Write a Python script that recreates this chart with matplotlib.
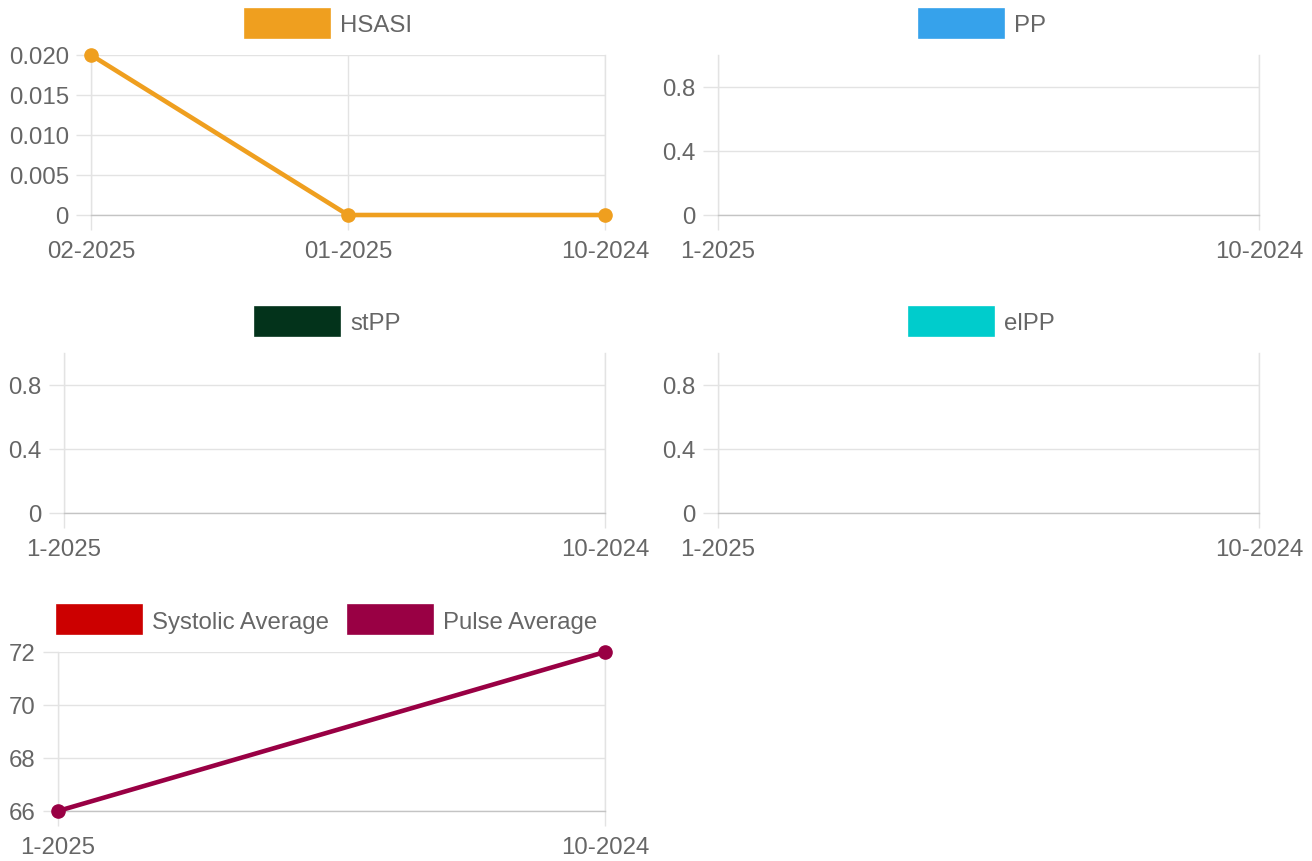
import matplotlib
matplotlib.use("Agg")
import matplotlib.pyplot as plt
from matplotlib.patches import Rectangle
import numpy as np

plt.rcParams['font.family'] = ['Liberation Sans', 'DejaVu Sans']

# ---------------- data ----------------
hsasi_labels = ["02-2025", "01-2025", "10-2024"]
hsasi_values = [0.02, 0.0, 0.0]
hsasi_ticks = [0, 0.005, 0.010, 0.015, 0.020]
hsasi_ticklabels = ["0", "0.005", "0.010", "0.015", "0.020"]

empty_labels = ["1-2025", "10-2024"]
pp_values = []
stpp_values = []
elpp_values = []
empty_ticks = [0, 0.4, 0.8]
empty_ticklabels = ["0", "0.4", "0.8"]

bp_labels = ["1-2025", "10-2024"]
systolic_values = []
pulse_values = [66, 72]
bp_ticks = [66, 68, 70, 72]
bp_ticklabels = ["66", "68", "70", "72"]

C_HSASI = "#EF9F1F"
C_PP = "#36A2EB"
C_STPP = "#03331B"
C_ELPP = "#00CCCC"
C_SYS = "#CC0000"
C_PULSE = "#990044"

TXT = "#666666"
GRID = "#e3e3e3"
ZERO = "#c4c4c4"
FS = 17.3

W, H = 1312, 862
fig = plt.figure(figsize=(W / 100, H / 100), dpi=100)
fig.patch.set_facecolor("white")


def px_axes(l, t, r, b):
    return fig.add_axes([l / W, 1 - b / H, (r - l) / W, (b - t) / H])


def style(ax, labels, yticks, yticklabels, ylim):
    n = len(labels)
    ax.set_xlim(0, n - 1)
    ax.set_ylim(*ylim)
    ax.set_xticks(range(n))
    ax.set_xticklabels(labels)
    ax.set_yticks(yticks)
    ax.set_yticklabels(yticklabels)
    ax.grid(True, color=GRID, linewidth=1.0)
    ax.set_axisbelow(True)
    ax.spines["top"].set_visible(False)
    ax.spines["right"].set_color(GRID)
    ax.spines["right"].set_linewidth(1.0)
    ax.spines["left"].set_color(GRID)
    ax.spines["left"].set_linewidth(1.0)
    ax.spines["bottom"].set_color(ZERO)
    ax.spines["bottom"].set_linewidth(1.0)
    ax.tick_params(axis="both", length=11, width=1.0, color=GRID,
                   labelsize=FS, labelcolor=TXT)
    ax.tick_params(axis="x", pad=7)
    ax.tick_params(axis="y", pad=5)


def legend_item(x, yc, color, text):
    fig.add_artist(Rectangle((x / W, 1 - (yc + 14.5) / H), 85 / W, 29 / H,
                             transform=fig.transFigure, facecolor=color,
                             edgecolor=color, linewidth=1.2))
    fig.text((x + 95) / W, 1 - yc / H, text, fontsize=FS, color=TXT,
             ha="left", va="center_baseline")


def line(ax, vals, color):
    if len(vals) == 0:
        return
    ax.plot(range(len(vals)), vals, color=color, lw=3.3, marker="o",
            markersize=9.5, markeredgecolor=color, clip_on=False, zorder=5)


# Panel 1: HSASI
ax1 = px_axes(91, 56, 605, 216)
style(ax1, hsasi_labels, hsasi_ticks, hsasi_ticklabels, (0, 0.02))
line(ax1, hsasi_values, C_HSASI)
legend_item(245, 24, C_HSASI, "HSASI")

# Panel 2: PP
ax2 = px_axes(718, 56, 1259, 216)
style(ax2, empty_labels, empty_ticks, empty_ticklabels, (0, 1))
line(ax2, pp_values, C_PP)
legend_item(919, 24, C_PP, "PP")

# Panel 3: stPP
ax3 = px_axes(64, 354, 605, 514)
style(ax3, empty_labels, empty_ticks, empty_ticklabels, (0, 1))
line(ax3, stpp_values, C_STPP)
legend_item(255, 322, C_STPP, "stPP")

# Panel 4: elPP
ax4 = px_axes(718, 354, 1259, 514)
style(ax4, empty_labels, empty_ticks, empty_ticklabels, (0, 1))
line(ax4, elpp_values, C_ELPP)
legend_item(909, 322, C_ELPP, "elPP")

# Panel 5: Systolic / Pulse
ax5 = px_axes(58, 653, 605, 812)
style(ax5, bp_labels, bp_ticks, bp_ticklabels, (66, 72))
line(ax5, systolic_values, C_SYS)
line(ax5, pulse_values, C_PULSE)
legend_item(57, 620, C_SYS, "Systolic Average")
legend_item(348, 620, C_PULSE, "Pulse Average")

fig.savefig("out.png", dpi=100, facecolor="white")
